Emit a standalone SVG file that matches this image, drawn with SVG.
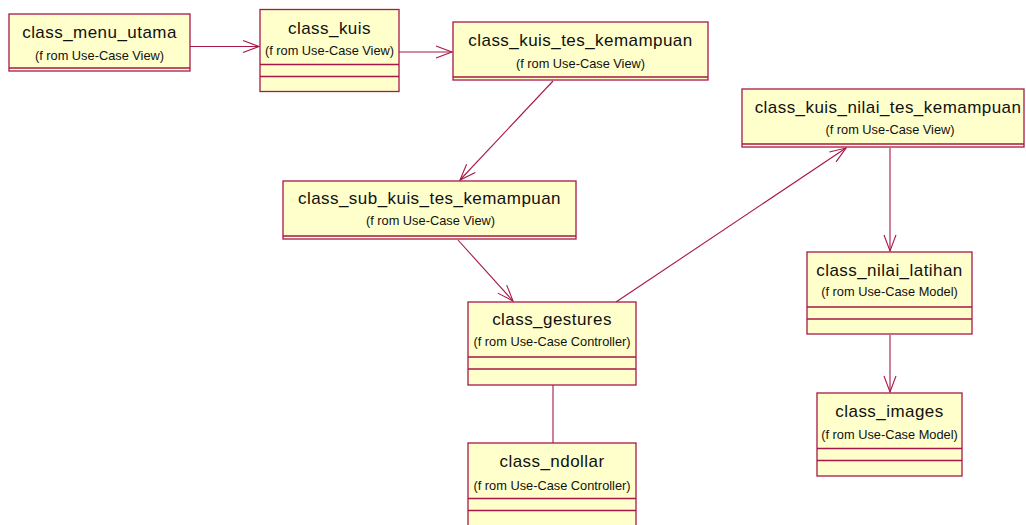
<svg xmlns="http://www.w3.org/2000/svg" width="1026" height="525" viewBox="0 0 1026 525">
  <style>
    .box { fill: #ffffcc; stroke: #a8174a; stroke-width: 1.3; }
    .sep { stroke: #a8174a; stroke-width: 1.3; fill: none; }
    .title { font-family: "Liberation Sans", Arial, sans-serif; font-size: 17px; letter-spacing: 0.45px; fill: #111; text-anchor: middle; }
    .sub { font-family: "Liberation Sans", Arial, sans-serif; font-size: 12.8px; fill: #111; text-anchor: middle; }
    .link { stroke: #a8174a; stroke-width: 1.1; fill: none; }
  </style>
  <defs>
    <marker id="open" markerUnits="userSpaceOnUse" markerWidth="20" markerHeight="16" viewBox="-18 -8 20 16" refX="0" refY="0" orient="auto">
      <path d="M-16,-6 L0,0 L-16,6" fill="none" stroke="#a8174a" stroke-width="1.1"/>
    </marker>
  </defs>

  <g id="connectors">
    <line class="link" x1="190" y1="46.5" x2="259" y2="46.5" marker-end="url(#open)"/>
    <line class="link" x1="399" y1="52" x2="452" y2="52" marker-end="url(#open)"/>
    <line class="link" x1="553" y1="81" x2="460" y2="180" marker-end="url(#open)"/>
    <line class="link" x1="458" y1="240" x2="513" y2="301" marker-end="url(#open)"/>
    <line class="link" x1="616" y1="302" x2="846" y2="148" marker-end="url(#open)"/>
    <line class="link" x1="890" y1="148" x2="890" y2="251" marker-end="url(#open)"/>
    <line class="link" x1="890" y1="335" x2="890" y2="392" marker-end="url(#open)"/>
    <line class="link" x1="553" y1="385" x2="553" y2="443"/>
  </g>

  <g id="class_menu_utama">
    <rect class="box" x="9" y="14" width="181" height="57"/>
    <line class="sep" x1="9" y1="68" x2="190" y2="68"/>
    <text class="title" x="99.5" y="37.5">class_menu_utama</text>
    <text class="sub" x="99.5" y="60">(f rom Use-Case View)</text>
  </g>

  <g id="class_kuis">
    <rect class="box" x="260" y="9.5" width="139" height="82"/>
    <line class="sep" x1="260" y1="64.5" x2="399" y2="64.5"/>
    <line class="sep" x1="260" y1="76.5" x2="399" y2="76.5"/>
    <text class="title" x="329.5" y="33.5">class_kuis</text>
    <text class="sub" x="329.5" y="55">(f rom Use-Case View)</text>
  </g>

  <g id="class_kuis_tes_kemampuan">
    <rect class="box" x="453" y="22" width="255" height="58"/>
    <line class="sep" x1="453" y1="77" x2="708" y2="77"/>
    <text class="title" x="580.5" y="45.5">class_kuis_tes_kemampuan</text>
    <text class="sub" x="580.5" y="68">(f rom Use-Case View)</text>
  </g>

  <g id="class_kuis_nilai_tes_kemampuan">
    <rect class="box" x="742" y="89" width="282" height="58"/>
    <line class="sep" x1="742" y1="144" x2="1024" y2="144"/>
    <text class="title" x="888" y="112.5">class_kuis_nilai_tes_kemampuan</text>
    <text class="sub" x="890" y="134">(f rom Use-Case View)</text>
  </g>

  <g id="class_sub_kuis_tes_kemampuan">
    <rect class="box" x="283" y="181" width="293" height="58"/>
    <line class="sep" x1="283" y1="236" x2="576" y2="236"/>
    <text class="title" x="429.5" y="203.5">class_sub_kuis_tes_kemampuan</text>
    <text class="sub" x="430.5" y="225">(f rom Use-Case View)</text>
  </g>

  <g id="class_gestures">
    <rect class="box" x="468" y="302" width="168" height="83"/>
    <line class="sep" x1="468" y1="357" x2="636" y2="357"/>
    <line class="sep" x1="468" y1="369" x2="636" y2="369"/>
    <text class="title" x="552" y="324.5">class_gestures</text>
    <text class="sub" x="552" y="346">(f rom Use-Case Controller)</text>
  </g>

  <g id="class_ndollar">
    <rect class="box" x="468" y="443" width="168" height="90"/>
    <line class="sep" x1="468" y1="498.5" x2="636" y2="498.5"/>
    <line class="sep" x1="468" y1="510.5" x2="636" y2="510.5"/>
    <text class="title" x="552" y="467">class_ndollar</text>
    <text class="sub" x="552" y="490">(f rom Use-Case Controller)</text>
  </g>

  <g id="class_nilai_latihan">
    <rect class="box" x="807" y="252" width="165" height="82"/>
    <line class="sep" x1="807" y1="307" x2="972" y2="307"/>
    <line class="sep" x1="807" y1="319" x2="972" y2="319"/>
    <text class="title" x="889.5" y="276">class_nilai_latihan</text>
    <text class="sub" x="889.5" y="296">(f rom Use-Case Model)</text>
  </g>

  <g id="class_images">
    <rect class="box" x="817" y="393" width="145" height="83"/>
    <line class="sep" x1="817" y1="448.5" x2="962" y2="448.5"/>
    <line class="sep" x1="817" y1="460.5" x2="962" y2="460.5"/>
    <text class="title" x="889.5" y="417">class_images</text>
    <text class="sub" x="889.5" y="439">(f rom Use-Case Model)</text>
  </g>
</svg>
